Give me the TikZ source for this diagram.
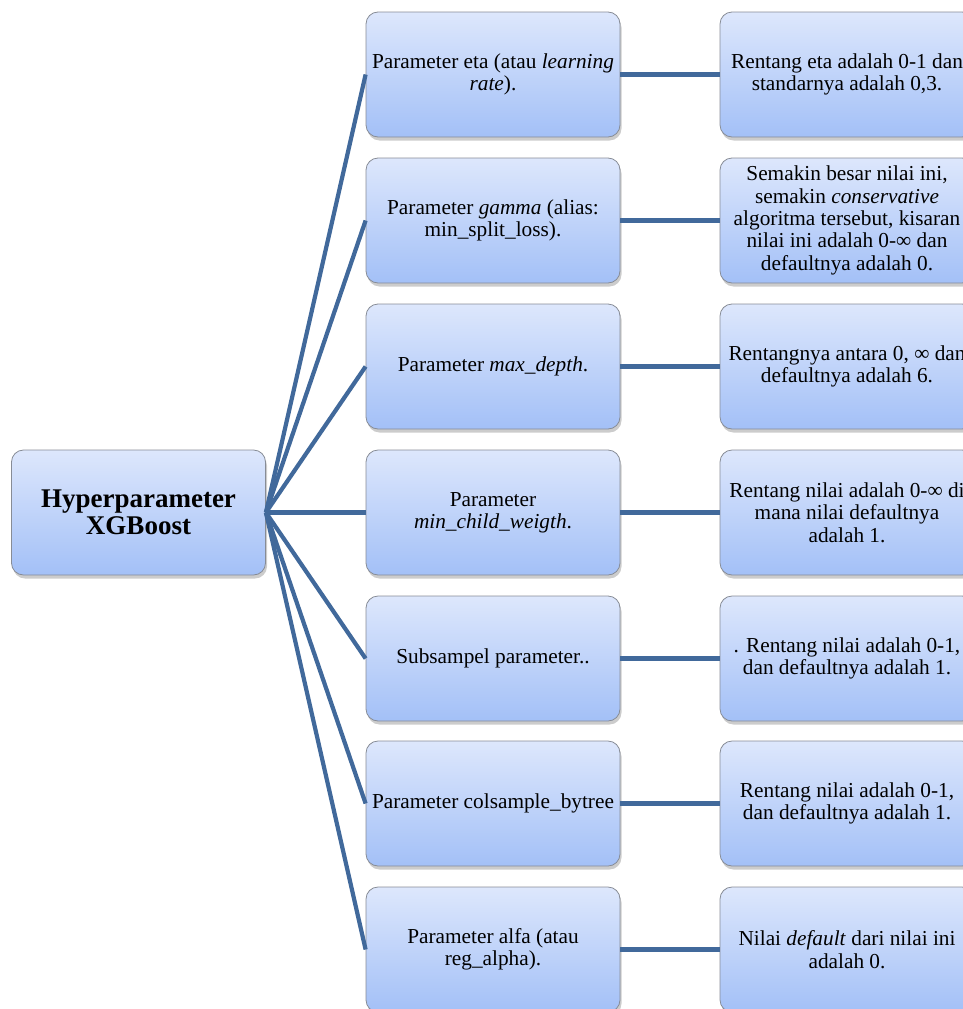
\documentclass[tikz,border=0pt]{standalone}
\usepackage{fontspec}
\setmainfont{Liberation Serif}
\usepackage{tikz}
\usetikzlibrary{shadows}

\definecolor{linkblue}{RGB}{65,105,155}
\definecolor{boxtop}{RGB}{221,231,252}
\definecolor{boxbot}{RGB}{163,192,247}
\definecolor{boxedge}{RGB}{135,140,150}

\tikzset{
  box/.style={draw=boxedge, line width=0.8pt, rounded corners=12pt,
    top color=boxtop, bottom color=boxbot,
    drop shadow={opacity=0.4, shadow xshift=1.5pt, shadow yshift=-3.5pt},
    minimum width=254pt, minimum height=125pt, inner sep=0pt,
    align=center, font=\fontsize{21.3}{22.3}\selectfont},
  rootbox/.style={box, font=\fontsize{27}{27}\selectfont\bfseries},
  link/.style={draw=linkblue, line width=4.2pt}
}

\begin{document}
\begin{tikzpicture}[x=1pt,y=-1pt]
\useasboundingbox (0,0) rectangle (963,1009);
\clip (0,0) rectangle (963,1009);

\node[rootbox] (root) at (138.5,512.5) {Hyperparameter\\XGBoost};

% parameter boxes
\node[box] (p1) at (493,74.5) {Parameter eta (atau \textit{learning}\\\textit{rate}).};
\node[box] (p2) at (493,220.5) {Parameter \textit{gamma} (alias:\\min\_split\_loss).};
\node[box] (p3) at (493,366.5) {Parameter \textit{max\_depth}.};
\node[box] (p4) at (493,512.5) {Parameter\\\textit{min\_child\_weigth}.};
\node[box] (p5) at (493,658.5) {Subsampel parameter..};
\node[box] (p6) at (493,803.5) {Parameter colsample\_bytree};
\node[box] (p7) at (493,949.5) {Parameter alfa (atau\\reg\_alpha).};

% value boxes
\node[box] (v1) at (847,74.5) {Rentang eta adalah 0-1 dan\\standarnya adalah 0,3.};
\node[box] (v2) at (847,220.5) {Semakin besar nilai ini,\\semakin \textit{conservative}\\algoritma tersebut, kisaran\\nilai ini adalah 0-∞ dan\\defaultnya adalah 0.};
\node[box] (v3) at (847,366.5) {Rentangnya antara 0, ∞ dan\\defaultnya adalah 6.};
\node[box] (v4) at (847,512.5) {Rentang nilai adalah 0-∞ di\\mana nilai defaultnya\\adalah 1.};
\node[box] (v5) at (847,658.5) {. Rentang nilai adalah 0-1,\\dan defaultnya adalah 1.};
\node[box] (v6) at (847,803.5) {Rentang nilai adalah 0-1,\\dan defaultnya adalah 1.};
\node[box] (v7) at (847,949.5) {Nilai \textit{default} dari nilai ini\\adalah 0.};

\foreach \i in {1,...,7}{
    \draw[link] (root.east) -- (p\i.west);
    \draw[link] (p\i.east) -- (v\i.west);
}

\end{tikzpicture}
\end{document}
